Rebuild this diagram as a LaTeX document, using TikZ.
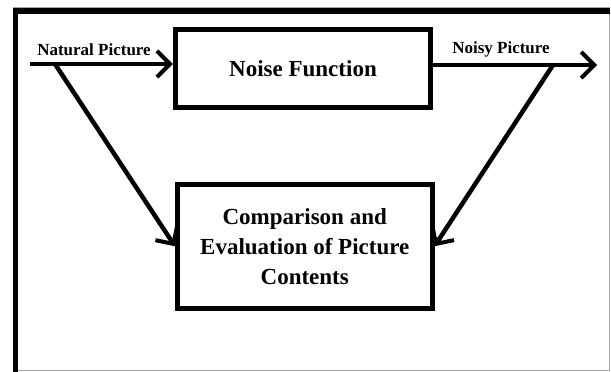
\documentclass[tikz,border=0pt]{standalone}
\usepackage{fontspec}
\setmainfont{Liberation Serif}
\usetikzlibrary{arrows.meta,calc}

\begin{document}
\begin{tikzpicture}[x=1pt, y=-1pt, box/.style={draw, line width=5pt, rectangle, font=\bfseries\fontsize{23}{30}\selectfont, align=center}, lbl/.style={font=\bfseries\fontsize{17}{20}\selectfont, inner sep=0pt, anchor=base}, arr/.style={line width=4.5pt, -{Straight Barb[length=13pt, width=26pt, line width=4pt]}}]
\useasboundingbox (0,0) rectangle (611,372);
% frame
\draw[gray!70, line width=1pt] (13,7) rectangle (609.5,370);
\draw[line width=6pt] (13,11) -- (609.5,11);
\draw[line width=5pt] (15.5,8) -- (15.5,372);
% blocks
\node[box, minimum width=255.5pt, minimum height=78pt] (noise) at (303,68.5) {Noise Function};
\node[box, minimum width=254.5pt, minimum height=124.5pt] (comp) at (304.75,246.25) {Comparison and\\Evaluation of Picture\\Contents};
\coordinate (natin) at (30,64);
\coordinate (natsplit) at (55,64);
\coordinate (noisyout) at (597,65);
\coordinate (noisysplit) at (553,65);
\node[lbl] (natlbl) at (94,55) {Natural Picture};
\node[lbl] (noisylbl) at (501,53) {Noisy Picture};
% connectors
\draw[arr] (natin) -- (natin -| noise.west);
\draw[arr] (noisyout -| noise.east) -- (noisyout);
\draw[arr] (natsplit) -- (comp.west);
\draw[arr] (noisysplit) -- (comp.east);
\end{tikzpicture}
\end{document}
